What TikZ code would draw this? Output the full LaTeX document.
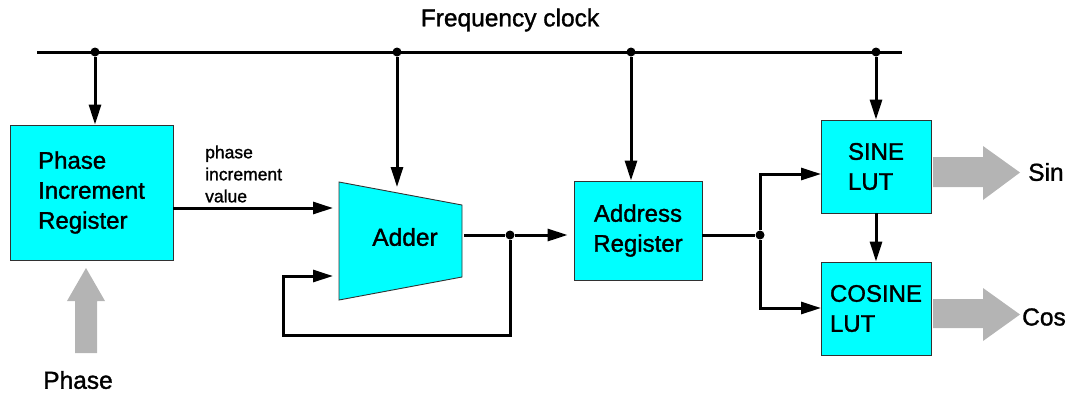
\documentclass[tikz,border=0pt]{standalone}
\usepackage{fontspec}
\setmainfont{Liberation Sans}[FakeBold=1.3]
\usetikzlibrary{arrows.meta}
\definecolor{boxcyan}{RGB}{0,255,255}
\definecolor{boxedge}{RGB}{50,50,50}
\definecolor{fatgray}{RGB}{180,180,180}
\begin{document}
\begin{tikzpicture}[x=1pt,y=-1pt,
  wire/.style={line width=3pt},
  arr/.style={wire,-{Triangle[length=20pt,width=12pt]}},
  blk/.style={draw=boxedge,line width=0.9pt,fill=boxcyan,inner sep=0pt,align=left,font=\fontsize{24}{30}\selectfont},
  jdot/.style={circle,fill=black,inner sep=0pt,minimum size=9pt},
  big/.style={inner sep=0pt,font=\fontsize{24.5}{28}\selectfont},
  fat/.style={fill=fatgray}]
\useasboundingbox (0,0) rectangle (1075,392);

% blocks
\node[blk,minimum width=163pt,minimum height=135pt] (pir) at (91.5,192.5) {Phase\\Increment\\Register};
\node[blk,align=center,minimum width=128pt,minimum height=99pt] (areg) at (638,230.5) {Address\\Register};
\node[blk,minimum width=110pt,minimum height=93pt] (sine) at (876,166.5) {SINE\\LUT};
\node[blk,minimum width=110pt,minimum height=93pt] (cosine) at (876,308.5) {COSINE\\LUT};

% adder
\draw[draw=boxedge,fill=boxcyan,line width=0.9pt] (339,182) -- (462,205) -- (462,277) -- (339,300) -- cycle;
\node[big] (adder) at (405,237) {Adder};
\coordinate (addinA) at (333,208);
\coordinate (addinB) at (333,276);
\coordinate (addout) at (464,235);
\coordinate (addtop) at (397,187);

% clock bus
\node[big] (clk) at (510,20) {Frequency clock};
\coordinate (busL) at (37,52);
\coordinate (busR) at (902,52);
\draw[wire] (busL) -- (busR);
\node[jdot] (d1) at (95,52) {};
\node[jdot] (d2) at (397,52) {};
\node[jdot] (d3) at (631,52) {};
\node[jdot] (d4) at (876,52) {};
\draw[arr] (d1) -- (d1 |- pir.north);
\draw[arr] (d2) -- (addtop);
\draw[arr] (d3) -- (d3 |- areg.north);
\draw[arr] (d4) -- (sine.north);

% phase increment
\draw[arr] (pir.east |- addinA) -- (addinA);
\node[inner sep=0pt,font=\fontsize{17.5}{22}\selectfont,align=left,anchor=west] (piv) at (205,174) {phase\\increment\\value};

% adder output and feedback
\node[jdot] (fb) at (510,235) {};
\coordinate (fbB) at (283,335);
\draw[wire] (addout) -- (fb);
\draw[arr,shorten >=6pt] (fb) -- (areg.west |- fb);
\draw[arr] (fb) |- (fbB) |- (addinB);

% address register to LUTs
\node[jdot] (sp) at (760,235) {};
\coordinate (sinein) at (821,174);
\coordinate (cosin) at (821,308);
\draw[wire] (areg.east |- sp) -- (sp);
\draw[arr] (sp) |- (sinein);
\draw[arr] (sp) |- (cosin);
\draw[arr] (sine) -- (cosine);

% fat arrows
\fill[fat] (75,353) -- (97,353) -- (97,301) -- (105,301) -- (86,268) -- (67,301) -- (75,301) -- cycle;
\fill[fat] (933,157) -- (983,157) -- (983,146) -- (1020,172.5) -- (983,200) -- (983,187) -- (933,187) -- cycle;
\fill[fat] (933,299) -- (983,299) -- (983,288) -- (1020,314.5) -- (983,341) -- (983,328) -- (933,328) -- cycle;

% labels
\node[big] (phaselbl) at (78,380) {Phase};
\node[big,anchor=west] (sinlbl) at (1028,172) {Sin};
\node[big,anchor=west] (coslbl) at (1022,317) {Cos};
\end{tikzpicture}
\end{document}
